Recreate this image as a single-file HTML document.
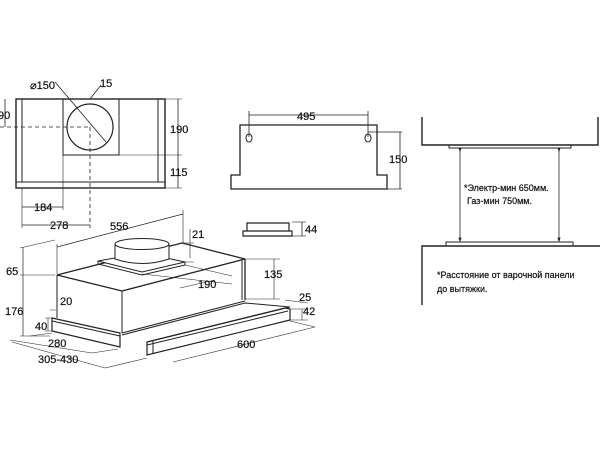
<!DOCTYPE html>
<html><head><meta charset="utf-8"><style>
html,body{margin:0;padding:0;background:#fff;width:600px;height:450px;overflow:hidden}
svg{display:block}
text{font-family:"Liberation Sans","DejaVu Sans",sans-serif;font-size:11px;fill:#111;stroke:#111;stroke-width:0.2}
.t{font-size:9px}
</style></head><body>
<svg width="600" height="450" viewBox="0 0 600 450" xmlns="http://www.w3.org/2000/svg">
<defs><marker id="a" markerWidth="6" markerHeight="6" refX="3" refY="3" orient="auto"><path d="M0,1 L6,3 L0,5z" fill="#222"/></marker></defs>
<g stroke="#222" fill="none" stroke-width="1">
<rect x="16" y="99" width="149" height="89" stroke-width="1.4"/>
<line x1="22" y1="99" x2="22" y2="182"/><line x1="158" y1="99" x2="158" y2="182"/>
<line x1="16" y1="182" x2="165" y2="182"/>
<rect x="63" y="99" width="56" height="56"/>
<circle cx="90" cy="127" r="23" stroke-width="1.2"/>
<line x1="55" y1="82" x2="106" y2="142" stroke-width="0.8"/>
<line x1="90" y1="99" x2="101" y2="85" stroke-width="0.8"/>
<line x1="0" y1="127" x2="90" y2="127" stroke-dasharray="4,3" stroke-width="0.8"/>
<line x1="90" y1="127" x2="90" y2="228" stroke-dasharray="4,3" stroke-width="0.8"/>
<line x1="5" y1="99" x2="5" y2="127" stroke-width="0.8"/>
<line x1="165" y1="99" x2="182" y2="99" stroke-width="0.6"/>
<line x1="119" y1="155" x2="182" y2="155" stroke-width="0.6"/>
<line x1="178" y1="99" x2="178" y2="188" stroke-width="0.8"/>
<line x1="165" y1="188" x2="182" y2="188" stroke-width="0.6"/>
<line x1="22" y1="188" x2="22" y2="228" stroke-width="0.6"/>
<line x1="63" y1="155" x2="63" y2="210" stroke-width="0.6"/>
<line x1="22" y1="207" x2="63" y2="207" stroke-width="0.8"/>
<line x1="22" y1="225" x2="90" y2="225" stroke-width="0.8"/>
<path d="M240,125 H377 V175 H387 V189 H231 V175 H240 Z" stroke-width="1.3"/>
<ellipse cx="249" cy="138" rx="3" ry="4"/><ellipse cx="368" cy="138" rx="3" ry="4"/>
<line x1="249" y1="111" x2="249" y2="137" stroke-width="0.8"/><line x1="368" y1="111" x2="368" y2="137" stroke-width="0.8"/>
<line x1="249" y1="115" x2="368" y2="115" stroke-width="0.8"/>
<line x1="368" y1="132" x2="402" y2="132" stroke-width="0.7"/>
<line x1="387" y1="189" x2="402" y2="189" stroke-width="0.7"/>
<line x1="400" y1="132" x2="400" y2="189" stroke-width="0.8"/>
<path d="M247,231 V223 H289 V231" stroke-width="1.2"/><path d="M243,236 V231 H292 V236 Z" stroke-width="1.2"/>
<line x1="292" y1="222" x2="306" y2="222" stroke-width="0.6"/><line x1="292" y1="236" x2="306" y2="236" stroke-width="0.6"/>
<line x1="302" y1="222" x2="302" y2="236" stroke-width="0.8"/>
<path d="M57,275 L182,243 L245,259 L122,291 Z" stroke-width="1.3"/>
<path d="M57,275 V318" /><path d="M122,291 V333" /><path d="M245,259 V300" stroke-width="1.3"/><path d="M242,260 V300"/>
<path d="M122,333 L245,301"/>
<path d="M98,261 L143,253 L185,262 L142,272 Z" fill="#fff"/>
<path d="M98,261 V264 L142,275 L185,265 V262"/>
<path d="M115,244 V259 Q142,268 169,259 V244" fill="#fff"/>
<ellipse cx="142" cy="244" rx="27" ry="5.5" fill="#fff"/>
<path d="M52,318 L120,333 V347 L52,331 Z" stroke-width="1.2"/>
<path d="M52,321 L120,336"/>
<path d="M122,335 L245,303 L290,307 L147,342" />
<path d="M147,342 L285,308 L290,309 V320 L147,355 Z" stroke-width="1.2"/>
<path d="M147,345 L288,311"/>
<path d="M147,342 V355 M153,341 V354"/>
<path d="M57,247 L183,214" stroke-width="0.7"/>
<path d="M57,274 V244 M183,243 V210" stroke-width="0.6"/>
<path d="M20,248 L55,240" stroke-width="0.6"/>
<path d="M23,247 V336" stroke-width="0.7"/>
<path d="M20,275 H55 M20,336 H50" stroke-width="0.6"/>
<path d="M190,229 V258 M183,243 H194 M185,262 H194" stroke-width="0.6"/>
<path d="M142,274 L232,284 M185,265 L232,276 M180,288 L215,280" stroke-width="0.6"/>
<path d="M245,259 H280 M245,299 H280 M274,259 V299" stroke-width="0.6"/>
<path d="M285,300 L308,303 M290,309 L308,309 M290,320 L308,320 M302,309 V320" stroke-width="0.6"/>
<path d="M50,310 H56 M45,318 H52 M45,331 H52 M48,318 V331" stroke-width="0.6"/>
<path d="M10,340 L92,353 M12,342 L105,368 M30,336 L52,333 M92,353 L118,349 M105,368 L147,358" stroke-width="0.6"/>
<path d="M173,362 L315,327 M290,321 L315,327" stroke-width="0.6"/>
<path d="M422,117 V145 H598 V117" stroke-width="1.4"/>
<rect x="449" y="145" width="122" height="3"/>
<line x1="460" y1="150" x2="460" y2="240" stroke-width="0.8" marker-start="url(#a)" marker-end="url(#a)"/>
<line x1="559" y1="150" x2="559" y2="240" stroke-width="0.8" marker-start="url(#a)" marker-end="url(#a)"/>
<rect x="446" y="242" width="127" height="4"/>
<path d="M600,246 H422 V305" stroke-width="1.4"/>
</g>
<text x="30" y="89">⌀150</text><text x="100" y="87">15</text>
<text x="-2" y="119">90</text><text x="170" y="133">190</text><text x="170" y="176">115</text>
<text x="34" y="211">184</text><text x="50" y="229">278</text>
<text x="297" y="120">495</text><text x="389" y="163">150</text>
<text x="305" y="233">44</text>
<text x="110" y="230">556</text><text x="192" y="238">21</text>
<text x="6" y="275">65</text><text x="5" y="315">176</text>
<text x="60" y="305">20</text><text x="35" y="330">40</text>
<text x="48" y="347">280</text><text x="38" y="363">305-430</text>
<text x="198" y="288">190</text><text x="264" y="278">135</text>
<text x="299" y="301">25</text><text x="303" y="315">42</text>
<text x="237" y="348">600</text>
<text class="t" x="464" y="191">*Электр-мин 650мм.</text>
<text class="t" x="467" y="204">Газ-мин 750мм.</text>
<text class="t" x="437" y="278">*Расстояние от варочной панели</text>
<text class="t" x="437" y="292">до вытяжки.</text>
</svg>
</body></html>
